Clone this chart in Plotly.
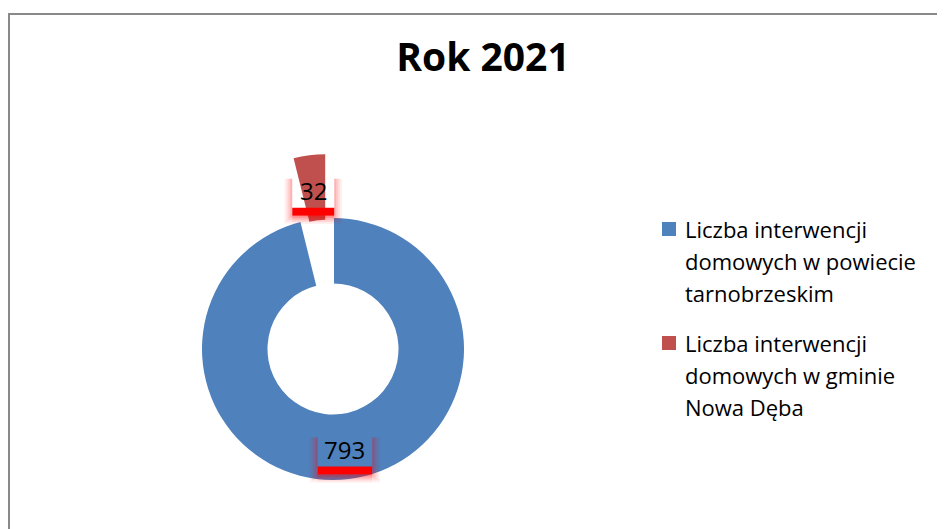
import math
import plotly.graph_objects as go

# ---- data ----
labels = [
    "Liczba interwencji<br>domowych w powiecie<br>tarnobrzeskim",
    "Liczba interwencji<br>domowych w gminie<br>Nowa Dęba",
]
values = [793, 32]
colors = ["#4F81BD", "#C0504D"]
title_text = "Rok 2021"

# ---- layout constants (pixels in the screenshot) ----
W, H = 945, 529
OX, OY = 8, 8           # page offset of the plot div
CX, CY = 333, 349       # ring centre
R = 131                 # outer radius
HOLE = 0.5
PULL = 0.49             # explode distance of 2nd slice, fraction of R
LABEL_DY = 3            # vertical nudge of data labels
TRANSP = "rgba(0,0,0,0)"
FONT = "Open Sans"


def fx(px):
    return (px - OX) / W


def fy(py):
    return 1 - (py - OY) / H


def px_dom(cx, cy, r):
    return dict(x=[fx(cx - r), fx(cx + r)], y=[fy(cy + r), fy(cy - r)])


total = sum(values)
mids = []
acc = 0
for v in values:
    mids.append(2 * math.pi * (acc + v / 2) / total)
    acc += v

d = PULL * R
ex_dx = d * math.sin(mids[1])
ex_dy = -d * math.cos(mids[1])

common = dict(labels=labels, values=values, hole=HOLE, sort=False,
              direction="clockwise", rotation=0, textinfo="none")

fig = go.Figure()
fig.add_trace(go.Pie(**common, marker=dict(colors=colors),
                     domain=px_dom(CX, CY, R), showlegend=False,
                     hovertemplate="%{value}<extra></extra>"))
fig.add_trace(go.Pie(**common,
                     marker=dict(colors=[TRANSP, "white"],
                                 line=dict(color=[TRANSP, "white"], width=[0, 2])),
                     domain=px_dom(CX, CY, R), showlegend=False, hoverinfo="skip"))
fig.add_trace(go.Pie(**common, marker=dict(colors=[TRANSP, colors[1]]),
                     domain=px_dom(CX + ex_dx, CY + ex_dy, R), showlegend=False,
                     hoverinfo="skip"))

shapes = []
annotations = []


def rect(a0, a1, b0, b1, color, op=1.0):
    shapes.append(dict(type="rect", xref="paper", yref="paper", layer="above",
                       x0=fx(a0), x1=fx(a1), y0=fy(b1), y1=fy(b0),
                       fillcolor=color, opacity=op, line=dict(width=0)))


# ---- data labels with red shadow ----
rmid = R * (1 + HOLE) / 2
for i, v in enumerate(values):
    ox, oy = (ex_dx, ex_dy) if i == 1 else (0, 0)
    lx = CX + ox + rmid * math.sin(mids[i])
    ly = CY + oy - rmid * math.cos(mids[i]) + LABEL_DY
    txt = str(v)
    bw = 12.5 * len(txt) + 17
    x0, x1 = lx - bw / 2, lx + bw / 2
    ytop, ybot = ly - 16, ly + 25
    for k, op in ((8, 0.05), (6, 0.07), (4, 0.09), (2, 0.12)):
        rect(x0 - k, x0, ytop + 4, ybot + k, "red", op)
        rect(x1, x1 + k, ytop + 4, ybot + k, "red", op)
        rect(x0, x1, ybot, ybot + k, "red", op * 1.6)
    rect(x0, x1, ybot - 8, ybot, "#FF0000")
    annotations.append(dict(text=txt, x=fx(lx), y=fy(ly), xref="paper", yref="paper",
                            showarrow=False, xanchor="center", yanchor="middle",
                            font=dict(family=FONT, size=24, color="black")))

# ---- legend (drawn as squares + text lines) ----
LEG_X, LEG_Y0, LINE_H, ITEM_H = 683, 229, 32, 114
for i, lab in enumerate(labels):
    y_first = LEG_Y0 + i * ITEM_H
    rect(662, 676, y_first - 7, y_first + 7, colors[i])
    for j, line in enumerate(lab.split("<br>")):
        annotations.append(dict(text=line, x=fx(LEG_X), y=fy(y_first + j * LINE_H),
                                xref="paper", yref="paper", showarrow=False,
                                xanchor="left", yanchor="middle",
                                font=dict(family=FONT, size=22, color="black")))

# chart border
shapes.append(dict(type="rect", xref="paper", yref="paper", layer="above",
                   x0=fx(9), x1=1.05, y0=-0.05, y1=fy(14),
                   line=dict(color="#898989", width=2), fillcolor=TRANSP))

fig.update_layout(
    width=W, height=H,
    margin=dict(l=0, r=0, t=0, b=0),
    paper_bgcolor="white", plot_bgcolor="white",
    title=dict(text="<b>" + title_text + "</b>", x=fx(483), xanchor="center",
               y=fy(57), yanchor="middle",
               font=dict(family=FONT, size=39, color="black")),
    showlegend=False,
    shapes=shapes,
    annotations=annotations,
)

fig.write_html("out.html")
